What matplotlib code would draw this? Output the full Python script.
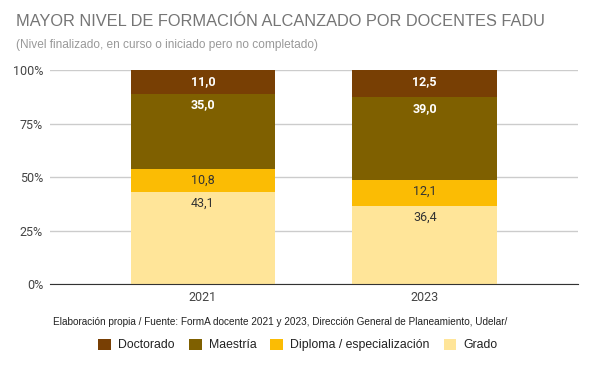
import numpy as np
import matplotlib.pyplot as plt

plt.rcParams['font.family'] = ['Roboto', 'DejaVu Sans']
ARIAL = ['Liberation Sans', 'DejaVu Sans']

years = ['2021', '2023']
series = ['Doctorado', 'Maestría', 'Diploma / especialización', 'Grado']
grado = [43.1, 36.4]
diploma = [10.8, 12.1]
maestria = [35.0, 39.0]
doctorado = [11.0, 12.5]
colors = {'Grado': '#ffe599', 'Diploma / especialización': '#fbbc04',
          'Maestría': '#7f6000', 'Doctorado': '#783f04'}
label_colors = {'Grado': '#333333', 'Diploma / especialización': '#333333',
                'Maestría': '#ffffff', 'Doctorado': '#ffffff'}

# orden de apilado desde abajo
stack = [('Grado', grado), ('Diploma / especialización', diploma),
         ('Maestría', maestria), ('Doctorado', doctorado)]

totals = np.sum([v for _, v in stack], axis=0)
x = np.arange(len(years))

fig = plt.figure(figsize=(5.95, 3.67), dpi=100)
ax = fig.add_axes([0.084, 0.226, 0.887, 0.583])

bottom = np.zeros(len(years))
handles = {}
for name, vals in stack:
    share = np.array(vals) / totals * 100
    b = ax.bar(x, share, 0.652, bottom=bottom, color=colors[name], zorder=3, label=name)
    handles[name] = b
    for xi, top, v in zip(x, bottom + share, vals):
        ax.annotate(f'{v:.1f}'.replace('.', ','), (xi, top), xytext=(0, -3.5),
                    textcoords='offset points', ha='center', va='top',
                    fontsize=9, color=label_colors[name],
                    fontweight='bold' if label_colors[name] == '#ffffff' else 'normal',
                    zorder=4)
    bottom += share

ax.set_xlim(-0.69, 1.69)
ax.set_ylim(0, 100)
ax.set_xticks(x)
ax.set_xticklabels(years)
ax.set_yticks([0, 25, 50, 75, 100])
ax.set_yticklabels(['0%', '25%', '50%', '75%', '100%'])
ax.tick_params(length=0, labelsize=9, colors='#444444', pad=5)
ax.grid(axis='y', color='#cccccc', linewidth=1, zorder=0)
for s in ['top', 'right', 'left']:
    ax.spines[s].set_visible(False)
ax.spines['bottom'].set_color('#333333')
ax.spines['bottom'].set_zorder(5)

fig.text(16 / 595, 1 - 22 / 367, 'MAYOR NIVEL DE FORMACIÓN ALCANZADO POR DOCENTES FADU',
         fontsize=11.75, color='#757575', va='center', family=ARIAL)
fig.text(16 / 595, 1 - 45 / 367, '(Nivel finalizado, en curso o iniciado pero no completado)',
         fontsize=8.6, color='#999999', va='center', family=ARIAL)
fig.text(53 / 595, 1 - 322 / 367,
         'Elaboración propia / Fuente: FormA docente 2021 y 2023, Dirección General de Planeamiento, Udelar/',
         fontsize=7.2, color='#222222', va='center', family=ARIAL)

fig.legend([handles[n] for n in series], series, loc='center', ncol=4,
           bbox_to_anchor=(298 / 595, 1 - 345 / 367), frameon=False,
           prop={'family': ARIAL, 'size': 8.8},
           handlelength=1.05, handleheight=1.05, columnspacing=1.15, handletextpad=0.57,
           borderpad=0, labelcolor='#222222')

fig.savefig('out.png', dpi=100)
